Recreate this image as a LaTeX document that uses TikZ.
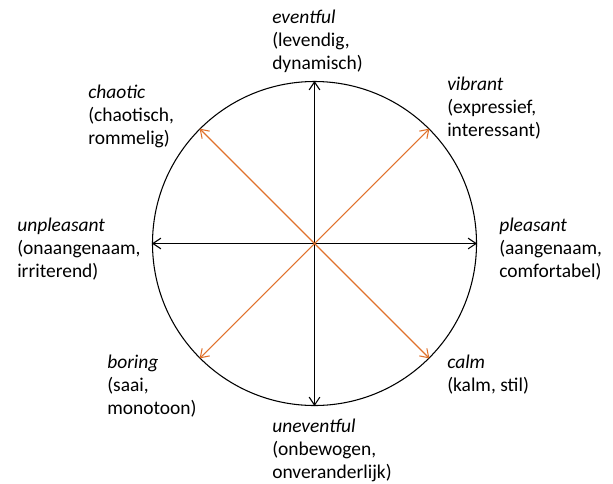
\documentclass[tikz,border=0pt]{standalone}
\usepackage{fontspec}
\setmainfont{Carlito}
\usetikzlibrary{arrows.meta}
\definecolor{rust}{HTML}{E0722C}

\begin{document}
\begin{tikzpicture}[x=0.75pt,y=-0.75pt,
  lbl/.style={anchor=north west, inner sep=0pt, align=left, font=\fontsize{14.6}{17.3}\selectfont},
  axis/.style={{Straight Barb[length=6pt,width=8pt]}-{Straight Barb[length=6pt,width=8pt]}, line width=0.8pt, draw=black},
  diag/.style={axis, draw=rust}
]
  \useasboundingbox (0,0) rectangle (613,483);
  \node[circle, draw, line width=0.8pt, inner sep=0pt, minimum size=243pt] (ring) at (314.5,243.5) {};

  % axes
  \draw[axis] (ring.north) -- (ring.south);
  \draw[axis] (ring.west) -- (ring.east);
  \draw[diag] (ring.45) -- (ring.225);
  \draw[diag] (ring.135) -- (ring.-45);

  % labels
  \node[lbl] (evf) at (272,10) {\textit{eventful}\\(levendig,\\dynamisch)};
  \node[lbl] (vib) at (447,77) {\textit{vibrant}\\(expressief,\\interessant)};
  \node[lbl] (cha) at (88,85) {\textit{chaotic}\\(chaotisch,\\rommelig)};
  \node[lbl] (unp) at (17,218) {\textit{unpleasant}\\(onaangenaam,\\irriterend)};
  \node[lbl] (ple) at (499,218) {\textit{pleasant}\\(aangenaam,\\comfortabel)};
  \node[lbl] (bor) at (107,355) {\textit{boring}\\(saai,\\monotoon)};
  \node[lbl] (clm) at (447,355) {\textit{calm}\\(kalm, stil)};
  \node[lbl] (unv) at (272,419) {\textit{uneventful}\\(onbewogen,\\onveranderlijk)};
\end{tikzpicture}
\end{document}
